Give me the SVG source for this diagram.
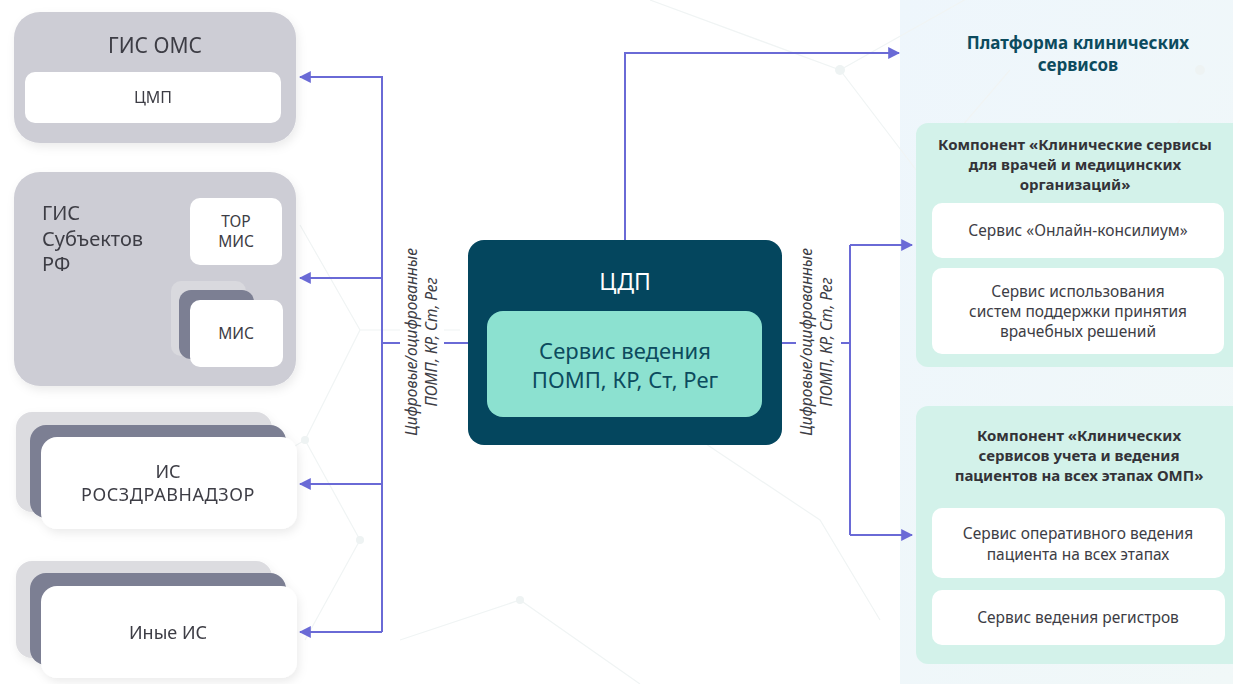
<svg xmlns="http://www.w3.org/2000/svg" width="1233" height="684" viewBox="0 0 1233 684">
  <defs>
    <style>
      .t { font-family: "Noto Sans", "Open Sans", sans-serif; }
      .grey { fill: #cdcdd5; }
      .white { fill: #ffffff; }
      .dark { fill: #7c7f93; }
      .pale { fill: #dcdce0; }
      .lbl { font-size: 16px; fill: #3d3d45; text-anchor: middle; }
      .big { font-size: 20px; fill: #3d3d45; }
      .conn { fill: none; stroke: #6a6ad6; stroke-width: 2; }
      .rot { font-size: 15.5px; font-style: italic; fill: #3d3d45; text-anchor: middle; }
      .green { fill: #d3f2ea; }
      .ghead { font-size: 15px; font-weight: bold; fill: #333338; text-anchor: middle; }
      .svc { font-size: 15.5px; fill: #3d3d45; text-anchor: middle; }
      .net { fill: none; stroke: #f0f4f4; stroke-width: 1.2; }
      .dot { fill: #eef3f3; }
    </style>
    <marker id="arr" viewBox="0 0 10 10" refX="9" refY="5" markerWidth="6" markerHeight="6" orient="auto-start-reverse" markerUnits="strokeWidth">
      <path d="M0,0 L10,5 L0,10 z" fill="#6a6ad6"/>
    </marker>
    <linearGradient id="panelBg" x1="0" y1="0" x2="1" y2="1">
      <stop offset="0" stop-color="#eef6fc"/>
      <stop offset="1" stop-color="#f1f8f8"/>
    </linearGradient>
    <filter id="sh" x="-10%" y="-10%" width="125%" height="130%">
      <feDropShadow dx="2" dy="4" stdDeviation="5" flood-color="#000" flood-opacity="0.08"/>
    </filter>
  </defs>

  <!-- page background -->
  <rect width="1233" height="684" fill="#ffffff"/>
  <rect x="900" y="0" width="333" height="684" fill="url(#panelBg)"/>

  <!-- faint network pattern -->
  <g id="network">
    <path class="net" d="M170 520 L305 440 L360 540 L305 640 M305 440 L360 330 L300 225 M360 330 L460 330 M650 0 L840 70 L920 175 M840 70 L1000 -20 M920 175 L1010 70 M1020 170 L1110 220 L1180 120 M1110 220 L1160 330 M400 640 L520 600 L640 684 M700 440 L820 520 L880 620"/>
    <circle class="dot" cx="305" cy="440" r="4"/>
    <circle class="dot" cx="360" cy="540" r="4"/>
    <circle class="dot" cx="840" cy="70" r="5"/>
    <circle class="dot" cx="1200" cy="70" r="5"/>
    <circle class="dot" cx="1110" cy="220" r="4"/>
    <circle class="dot" cx="520" cy="600" r="4"/>
  </g>

  <!-- ГИС ОМС -->
  <g id="gis-oms" filter="url(#sh)">
    <rect class="grey" x="14" y="12" width="282" height="131" rx="26"/>
    <text class="t lbl" x="155" y="53" style="font-size:21px">ГИС ОМС</text>
    <rect class="white" x="25" y="72" width="256" height="51" rx="10"/>
    <text class="t lbl" x="153" y="103">ЦМП</text>
  </g>

  <!-- ГИС Субъектов РФ -->
  <g id="gis-subjects" filter="url(#sh)">
    <rect class="grey" x="14" y="172" width="282" height="214" rx="26"/>
    <text class="t big" x="42" y="220">ГИС</text>
    <text class="t big" x="42" y="246">Субъектов</text>
    <text class="t big" x="42" y="271">РФ</text>
  </g>
  <g id="tor-mis">
    <rect class="white" x="190" y="198" width="92" height="67" rx="10"/>
    <text class="t lbl" x="236" y="227" style="font-size:15.5px">ТОР</text>
    <text class="t lbl" x="236" y="247" style="font-size:15.5px">МИС</text>
  </g>
  <g id="mis">
    <rect x="171" y="281" width="75" height="75" rx="10" fill="#d9d9de"/>
    <rect class="dark" x="179" y="290" width="75" height="69" rx="12"/>
    <rect class="white" x="190" y="300" width="93" height="67" rx="10"/>
    <text class="t lbl" x="236" y="339" style="font-size:15.5px">МИС</text>
  </g>

  <!-- ИС РОСЗДРАВНАДЗОР -->
  <g id="is-rzn" filter="url(#sh)">
    <rect class="pale" x="16" y="412" width="256" height="100" rx="16"/>
    <rect class="dark" x="30" y="425" width="256" height="93" rx="16"/>
    <rect class="white" x="41" y="437" width="256" height="92" rx="16"/>
    <text class="t lbl" x="168" y="478" style="font-size:18px">ИС</text>
    <text class="t lbl" x="168" y="501" style="font-size:18px;letter-spacing:0.6px">РОСЗДРАВНАДЗОР</text>
  </g>

  <!-- Иные ИС -->
  <g id="other-is" filter="url(#sh)">
    <rect class="pale" x="16" y="561" width="256" height="97" rx="16"/>
    <rect class="dark" x="30" y="573" width="256" height="92" rx="16"/>
    <rect class="white" x="41" y="586" width="256" height="92" rx="16"/>
    <text class="t lbl" x="168" y="639" style="font-size:18px">Иные ИС</text>
  </g>

  <!-- connectors -->
  <g id="connectors">
    <path class="conn" d="M382 632 L382 77 L300 77" marker-end="url(#arr)"/>
    <path class="conn" d="M382 278 L300 278" marker-end="url(#arr)"/>
    <path class="conn" d="M382 484 L300 484" marker-end="url(#arr)"/>
    <path class="conn" d="M382 632 L300 632" marker-end="url(#arr)"/>
    <path class="conn" d="M468 343 L382 343"/>
    <path class="conn" d="M625 240 L625 53 L899 53" marker-end="url(#arr)"/>
    <path class="conn" d="M782 343 L850 343"/>
    <path class="conn" d="M850 245 L850 535"/>
    <path class="conn" d="M850 245 L912 245" marker-end="url(#arr)"/>
    <path class="conn" d="M850 535 L912 535" marker-end="url(#arr)"/>

    <rect x="400" y="232" width="44" height="222" fill="#ffffff"/>
    <text class="t rot" transform="translate(417,342) rotate(-90)">Цифровые/оцифрованные</text>
    <text class="t rot" transform="translate(437,342) rotate(-90)">ПОМП, КР, Ст, Рег</text>

    <rect x="796" y="191" width="45" height="263" fill="#ffffff"/>
    <text class="t rot" transform="translate(812,342) rotate(-90)">Цифровые/оцифрованные</text>
    <text class="t rot" transform="translate(832,342) rotate(-90)">ПОМП, КР, Ст, Рег</text>
  </g>

  <!-- ЦДП -->
  <g id="cdp">
    <rect x="468" y="240" width="314" height="205" rx="16" fill="#04465e"/>
    <text class="t" x="625" y="290" font-size="23" fill="#ffffff" text-anchor="middle">ЦДП</text>
    <rect x="487" y="311" width="275" height="106" rx="16" fill="#8ce1d0"/>
    <text class="t" x="625" y="359" font-size="22" fill="#0c4b5e" text-anchor="middle">Сервис ведения</text>
    <text class="t" x="625" y="388" font-size="22" fill="#0c4b5e" text-anchor="middle">ПОМП, КР, Ст, Рег</text>
  </g>

  <!-- Платформа клинических сервисов -->
  <g id="platform-title">
    <text class="t" x="1078" y="49" font-size="17" font-weight="bold" fill="#0c4b5e" text-anchor="middle">Платформа клинических</text>
    <text class="t" x="1078" y="71" font-size="17" font-weight="bold" fill="#0c4b5e" text-anchor="middle">сервисов</text>
  </g>

  <!-- Компонент 1 -->
  <g id="component-doctors">
    <rect class="green" x="916" y="123" width="330" height="244" rx="12"/>
    <text class="t ghead" x="1075" y="150">Компонент «Клинические сервисы</text>
    <text class="t ghead" x="1075" y="170">для врачей и медицинских</text>
    <text class="t ghead" x="1075" y="190">организаций»</text>
  </g>
  <g id="svc-consilium">
    <rect class="white" x="932" y="203" width="292" height="55" rx="10"/>
    <text class="t svc" x="1078" y="236">Сервис «Онлайн-консилиум»</text>
  </g>
  <g id="svc-decisions">
    <rect class="white" x="932" y="268" width="292" height="86" rx="10"/>
    <text class="t svc" x="1078" y="297">Сервис использования</text>
    <text class="t svc" x="1078" y="317">систем поддержки принятия</text>
    <text class="t svc" x="1078" y="337">врачебных решений</text>
  </g>

  <!-- Компонент 2 -->
  <g id="component-patients">
    <rect class="green" x="916" y="406" width="330" height="258" rx="12"/>
    <text class="t ghead" x="1079" y="441">Компонент «Клинических</text>
    <text class="t ghead" x="1079" y="461">сервисов учета и ведения</text>
    <text class="t ghead" x="1079" y="481">пациентов на всех этапах ОМП»</text>
  </g>
  <g id="svc-operative">
    <rect class="white" x="932" y="508" width="293" height="70" rx="10"/>
    <text class="t svc" x="1078" y="539">Сервис оперативного ведения</text>
    <text class="t svc" x="1078" y="560">пациента на всех этапах</text>
  </g>
  <g id="svc-registers">
    <rect class="white" x="932" y="590" width="293" height="55" rx="10"/>
    <text class="t svc" x="1078" y="623">Сервис ведения регистров</text>
  </g>
</svg>
